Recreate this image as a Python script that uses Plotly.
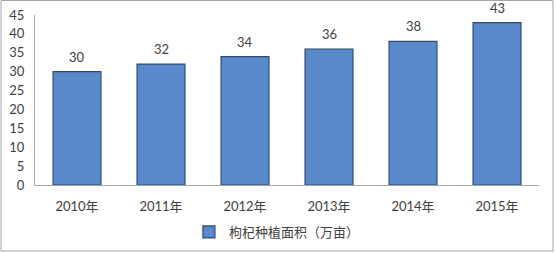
import plotly.graph_objects as go

categories = ["2010年", "2011年", "2012年", "2013年", "2014年", "2015年"]
values = [30, 32, 34, 36, 38, 43]
series_name = "枸杞种植面积（万亩）"
y_ticks = [0, 5, 10, 15, 20, 25, 30, 35, 40, 45]

FONT = "Lato, 'Noto Sans CJK SC', sans-serif"

fig = go.Figure()
fig.add_trace(go.Bar(
    x=categories, y=values, name=series_name,
    marker=dict(color="#5A8ACB", line=dict(color="#2C4A72", width=1.2)),
    width=0.57,
    cliponaxis=False,
    showlegend=True,
))

for c, v in zip(categories, values):
    fig.add_annotation(x=c, y=v, text=str(v), showarrow=False, yanchor="bottom",
                       yshift=5, font=dict(family=FONT, size=13, color="#404040"))

L, R, T, B = 35, 17, 15, 68
W, H = 556, 253
pw, ph = W - L - R, H - T - B

def px_x(x):
    return (x - L) / pw

def px_y(y):
    return (H - B - y) / ph

fig.update_layout(
    width=W, height=H,
    margin=dict(l=L, r=R, t=T, b=B, autoexpand=False),
    paper_bgcolor="white", plot_bgcolor="white",
    font=dict(family=FONT, size=13, color="#404040"),
    bargap=0.43,
    xaxis=dict(showline=True, linecolor="#A6A6A6", linewidth=1, ticks="",
               showgrid=False, tickfont=dict(size=13), ticklabelstandoff=9),
    yaxis=dict(range=[0, 45], tickvals=y_ticks, showline=True, linecolor="#A6A6A6",
               linewidth=1, ticks="", showgrid=False, zeroline=False,
               tickfont=dict(size=13), ticklabelstandoff=7),
    legend=dict(orientation="h", x=0.48, xanchor="center", y=px_y(232), yanchor="middle",
                font=dict(size=13, color="#404040"), itemwidth=30),
    shapes=[dict(type="rect", xref="paper", yref="paper",
                 x0=px_x(1), x1=px_x(553), y0=px_y(251), y1=px_y(0.5),
                 line=dict(color="#A6A6A6", width=1), fillcolor="rgba(0,0,0,0)")],
)

fig.write_html("out.html")
